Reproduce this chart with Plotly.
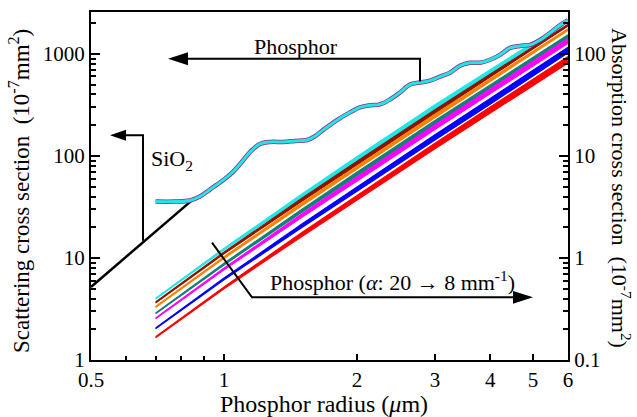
import plotly.graph_objects as go

# scattering cross section (10^-7 mm^2), left axis
scat_x = [0.70, 0.775, 0.837, 0.882, 0.929, 0.964, 1.005, 1.048, 1.098, 1.145, 1.206,
          1.271, 1.36, 1.447, 1.541, 1.606, 1.674, 1.801, 1.927, 2.03, 2.139, 2.254,
          2.374, 2.50, 2.635, 2.776, 2.924, 3.08, 3.245, 3.418, 3.60, 3.794, 3.997,
          4.21, 4.436, 4.67, 4.92, 5.19, 5.46, 5.76, 6.0]
scat_phosphor = [35.7, 35.7, 36.6, 40.0, 46.8, 52.3, 59.8, 69.9, 87.5, 109, 131,
                 137, 137, 140, 143, 156, 179, 224, 267, 299, 313, 320,
                 357, 418, 500, 523, 547, 598, 654, 764, 818, 818, 875,
                 977, 1143, 1196, 1223, 1368, 1600, 1914, 2138]
sio2_x = [0.5, 0.86]
sio2_scat = [5.2, 39]

# absorption cross section (10^-7 mm^2), right axis, alpha = 20 ... 8 mm^-1
abs_x = [0.7, 1.0, 1.5, 2.0, 3.0, 4.0, 5.0, 6.0]
abs_a20 = [0.40, 1.22, 4.06, 9.33, 29.8, 67.0, 126, 209]
abs_a18 = [0.366, 1.12, 3.71, 8.53, 27.2, 61.2, 115, 191]
abs_a16 = [0.331, 1.01, 3.36, 7.72, 24.6, 55.4, 104, 173]
abs_a14 = [0.286, 0.872, 2.90, 6.67, 21.3, 47.9, 90.0, 149]
abs_a12 = [0.256, 0.781, 2.60, 5.97, 19.1, 42.9, 80.6, 134]
abs_a10 = [0.204, 0.622, 2.07, 4.76, 15.2, 34.2, 64.2, 109]
abs_a8 = [0.167, 0.510, 1.70, 3.90, 12.5, 28.0, 52.6, 87.4]
# relative half-height of the ripple band
rip_a20 = [0.01, 0.02, 0.04, 0.055, 0.065, 0.05, 0.03, 0.02]
rip_a18 = [0.01, 0.02, 0.035, 0.04, 0.04, 0.03, 0.025, 0.02]
rip_a16 = [0.01, 0.02, 0.035, 0.04, 0.04, 0.03, 0.025, 0.02]
rip_a14 = [0.01, 0.02, 0.035, 0.045, 0.045, 0.04, 0.035, 0.03]
rip_a12 = [0.01, 0.02, 0.04, 0.05, 0.055, 0.055, 0.055, 0.055]
rip_a10 = [0.01, 0.02, 0.04, 0.05, 0.06, 0.065, 0.065, 0.065]
rip_a8 = [0.01, 0.02, 0.045, 0.055, 0.065, 0.075, 0.075, 0.075]

x_ticks = [0.5, 1, 2, 3, 4, 5, 6]
left_ticks = [1, 10, 100, 1000]
right_ticks = [0.1, 1, 10, 100]

FONT = "Liberation Serif"
curves = [(abs_a20, rip_a20, '#22E6E6'), (abs_a18, rip_a18, '#8B1500'),
          (abs_a16, rip_a16, '#FF8000'), (abs_a14, rip_a14, '#108078'),
          (abs_a12, rip_a12, '#FF00FF'), (abs_a10, rip_a10, '#0000FF'),
          (abs_a8, rip_a8, '#FF0000')]

fig = go.Figure()

for vals, rip, col in curves:
    hi = [v * (1 + r) for v, r in zip(vals, rip)]
    lo = [v / (1 + r) for v, r in zip(vals, rip)]
    fig.add_trace(go.Scatter(x=abs_x + abs_x[::-1], y=hi + lo[::-1], mode='lines',
                             fill='toself', fillcolor=col,
                             line=dict(color=col, width=1.2), yaxis='y',
                             hoverinfo='skip', showlegend=False))

fig.add_trace(go.Scatter(x=sio2_x, y=sio2_scat, mode='lines', yaxis='y2',
                         line=dict(color='black', width=2.5), showlegend=False))
fig.add_trace(go.Scatter(x=scat_x, y=scat_phosphor, mode='lines', yaxis='y2',
                         line=dict(color='#8a2a8a', width=4.5, shape='spline'), showlegend=False))
fig.add_trace(go.Scatter(x=scat_x, y=scat_phosphor, mode='lines', yaxis='y2',
                         line=dict(color='#22E6E6', width=3, shape='spline'), showlegend=False))


def minor_vals(lo_dec, hi_dec):
    out = []
    for d in range(lo_dec, hi_dec + 1):
        for k in range(2, 10):
            out.append(k * 10 ** d)
    return out


axis_common = dict(showline=True, linecolor='black', linewidth=2, showgrid=False,
                   zeroline=False, ticks='inside', tickcolor='black', tickwidth=1.5,
                   tickfont=dict(family=FONT, size=21, color='black'))

fig.update_layout(
    width=637, height=417,
    margin=dict(l=91, r=69, t=10, b=57),
    paper_bgcolor='white', plot_bgcolor='white',
    font=dict(family=FONT, color='black'),
    xaxis=dict(type='log', range=[-0.30103, 0.77815], tickmode='array',
               tickvals=x_ticks, ticktext=[str(v) for v in x_ticks], ticklen=6,
               mirror=True,
               minor=dict(tickmode='array', tickvals=[0.6, 0.7, 0.8, 0.9], ticklen=4,
                          ticks='inside', tickcolor='black', tickwidth=1.5),
               **axis_common),
    yaxis=dict(type='log', range=[-1, 2.41], side='right', tickmode='array',
               tickvals=right_ticks, ticktext=['0.1', '1', '10', '100'], ticklen=9,
               minor=dict(tickmode='array', tickvals=minor_vals(-1, 2), ticklen=5,
                          ticks='inside', tickcolor='black', tickwidth=1.5),
               **axis_common),
    yaxis2=dict(type='log', range=[0, 3.41], side='left', overlaying='y', anchor='x',
                tickmode='array', tickvals=left_ticks,
                ticktext=['1', '10', '100', '1000'], ticklen=9,
                minor=dict(tickmode='array', tickvals=minor_vals(0, 3), ticklen=5,
                           ticks='inside', tickcolor='black', tickwidth=1.5),
                **axis_common),
)


def P(px, py):
    return (px - 91) / 477, (360 - py) / 350


def path(points, closed=False):
    s = ''
    for i, (px, py) in enumerate(points):
        x, y = P(px, py)
        s += ('M' if i == 0 else 'L') + f' {x:.4f},{y:.4f} '
    return s + ('Z' if closed else '')


shapes = []
# arrow lines
for pts in [[(420, 80), (420, 57), (186, 57)],
            [(143, 240), (143, 134), (124, 134)],
            [(212, 242), (252, 297), (515, 297)]]:
    shapes.append(dict(type='path', xref='paper', yref='paper', path=path(pts),
                       line=dict(color='black', width=2)))
# arrow heads
for pts in [[(168, 57), (188, 50.5), (188, 63.5)],
            [(110, 134), (126, 128.5), (126, 139.5)],
            [(533, 297), (513, 290.5), (513, 303.5)]]:
    shapes.append(dict(type='path', xref='paper', yref='paper', path=path(pts, True),
                       fillcolor='black', line=dict(color='black', width=0)))
fig.update_layout(shapes=shapes)

anns = []


def text(px, py, s, size=22, xanchor='center', angle=0):
    x, y = P(px, py)
    anns.append(dict(x=x, y=y, xref='paper', yref='paper', text=s, showarrow=False,
                     xanchor=xanchor, yanchor='middle', textangle=angle,
                     font=dict(family=FONT, size=size, color='black')))


text(296, 45, 'Phosphor')
text(149, 159, 'SiO<sub>2</sub>', xanchor='left')
text(268, 281, 'Phosphor (<i>α</i>: 20 → 8 mm<sup>-1</sup>)', xanchor='left')
text(324, 404, 'Phosphor radius (<i>μ</i>m)', size=24)
text(20, 190, 'Scattering cross section\u00a0\u00a0(10<sup>-7</sup>mm<sup>2</sup>)', size=23, angle=-90)
text(621, 187, 'Absorption cross section\u00a0\u00a0(10<sup>-7</sup>mm<sup>2</sup>)', size=22, angle=90)
fig.update_layout(annotations=anns)

fig.write_html("out.html", config={'displayModeBar': False},
               post_script="document.body.style.margin='0';")
